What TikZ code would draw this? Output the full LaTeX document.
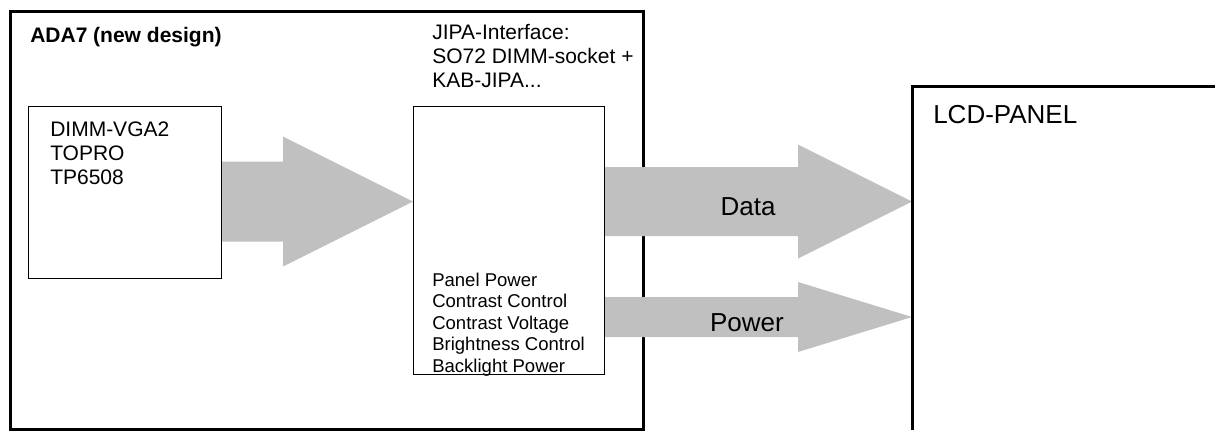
\documentclass[tikz,border=0pt]{standalone}
\usepackage{fontspec}
\setmainfont{Liberation Sans}
\usetikzlibrary{calc}
\definecolor{arrowgrey}{RGB}{192,192,192}
\newcommand{\px}{0.75pt}
% grey block arrow: tail, tip, half shaft, half head, head length
\newcommand{\blockarrow}[5]{%
  \fill[arrowgrey] ($(#1)+(0,-#3)$) -- ($(#2)+(-#5,-#3)$) -- ($(#2)+(-#5,-#4)$) -- (#2)
    -- ($(#2)+(-#5,#4)$) -- ($(#2)+(-#5,#3)$) -- ($(#1)+(0,#3)$) -- cycle;}
\tikzset{
  board/.style={draw, line width=2.25pt, inner sep=0pt, anchor=north west},
  unit/.style={draw, line width=1.1pt, inner sep=0pt, anchor=north west},
  label/.style={inner sep=0pt, anchor=base west, align=left,
    font=\fontsize{15.75}{18}\selectfont},
  siglist/.style={inner sep=0pt, anchor=base west, align=left,
    font=\fontsize{13.9}{16.1}\selectfont},
  buslabel/.style={inner sep=0pt, anchor=base, font=\fontsize{19.5}{22}\selectfont}
}
\begin{document}
\begin{tikzpicture}[x=\px, y=-\px]
  \useasboundingbox (0,0) rectangle (1215,430);
  \node[board, minimum width=633*\px, minimum height=418*\px] (ada) at (9,10) {};
  \node[label, font=\fontsize{15.75}{18}\selectfont\bfseries] (adatitle) at (30,42) {ADA7 (new design)};
  % arrows
  \coordinate (vgaout) at (221,201.5);
  \coordinate (jipain) at (413,201.5);
  \coordinate (dataout) at (604,201.5);
  \coordinate (datain) at (912,201.5);
  \coordinate (pwrout) at (604,317);
  \coordinate (pwrin) at (912,317);
  \blockarrow{vgaout}{jipain}{40}{65}{130}
  \blockarrow{dataout}{datain}{34.5}{57}{114}
  \blockarrow{pwrout}{pwrin}{20}{35}{114}
  \node[buslabel] (data) at (748,215) {Data};
  \node[buslabel] (power) at (747,331) {Power};
  % units
  \node[unit, minimum width=193*\px, minimum height=172*\px] (dimm) at (28,106) {};
  \node[label] (dimmtext) at (50,184) {DIMM-VGA2\\TOPRO\\TP6508};
  \node[unit, minimum width=191*\px, minimum height=268*\px] (jipa) at (413,106) {};
  \node[label] (jipatext) at (432,87) {JIPA-Interface:\\SO72 DIMM-socket +\\KAB-JIPA...};
  \node[siglist] (signals) at (432,372) {Panel Power\\Contrast Control\\Contrast Voltage\\Brightness Control\\Backlight Power};
  % panel
  \coordinate (lcd) at (912,86);
  \draw[line width=2.25pt] (lcd |- 0,430) -- (lcd) -- (1215,86);
  \node[buslabel, anchor=base west] (lcdtext) at (933,123) {LCD-PANEL};
\end{tikzpicture}
\end{document}
